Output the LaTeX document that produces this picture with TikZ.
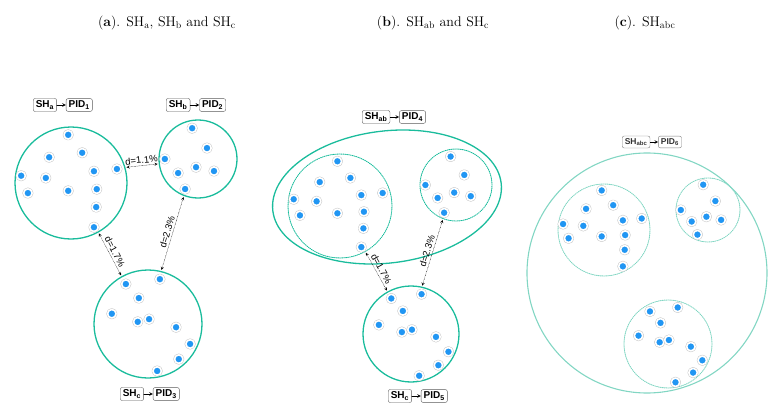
\documentclass[tikz,border=0pt]{standalone}
\usepackage{fontspec}
\setsansfont{Liberation Sans}
\usetikzlibrary{positioning,calc}
\definecolor{hullgreen}{RGB}{26,188,156}
\definecolor{hullpale}{RGB}{130,214,195}
\definecolor{seedblue}{RGB}{33,150,243}
% seed positions, relative to the hull radius
\def\patA{-0.05/-0.86,-0.39/-0.46,0.20/-0.54,-0.89/-0.13,-0.45/-0.09,-0.77/0.18,-0.05/0.14,0.41/-0.21,0.82/-0.25,0.46/0.11,0.45/0.43,0.41/0.79}
\def\patB{-0.15/-0.79,0.23/-0.28,-0.85/0,-0.51/0.36,-0.05/0.21,0.41/0.31,-0.33/0.77}
\def\patC{-0.41/-0.74,0.22/-0.83,-0.17/-0.48,-0.67/-0.19,-0.19/-0.04,0.02/-0.09,0.52/0.06,0.78/0.37,0.57/0.65,0.17/0.87}
\tikzset{
  hull/.style={circle, draw=hullgreen, line width=1.3pt, inner sep=0pt},
  subhull/.style={circle, draw=hullgreen, densely dotted, line width=0.9pt, inner sep=0pt},
  seed/.style={circle, inner sep=0pt, minimum size=8.4pt, fill=seedblue, draw=white, line width=1.6pt,
    preaction={draw=gray!45, line width=2.6pt}},
  tag/.style={draw=gray!70!black, rounded corners=2pt, inner xsep=2.6pt, inner ysep=2.2pt,
    font=\sffamily\bfseries\fontsize{10}{11}\selectfont},
  dist/.style={<->, densely dotted, thin, shorten >=1pt, shorten <=1pt},
  distlabel/.style={font=\sffamily\fontsize{9.5}{10}\selectfont, inner sep=2pt},
  title/.style={font=\fontsize{14}{16}\selectfont}
}
\begin{document}
\begin{tikzpicture}[x=1pt, y=-1pt, line join=round, line cap=round, >=stealth]
	\useasboundingbox (0,0) rectangle (780,420);
	% titles
	\node[title] (ta) at (167,23) {(\textbf{a}). SH\textsubscript{a}, SH\textsubscript{b} and SH\textsubscript{c}};
	\node[title] (tb) at (433,23) {(\textbf{b}). SH\textsubscript{ab} and SH\textsubscript{c}};
	\node[title] (tc) at (645,23) {(\textbf{c}). SH\textsubscript{abc}};
	% (a)
	\node[hull, minimum size=112pt] (A) at (71,183) {};
	\node[hull, minimum size=78pt] (B) at (198,159) {};
	\node[hull, minimum size=108pt] (C) at (148,324) {};
	% (b)
	\draw[hullgreen, line width=1.3pt, rotate around={7:(387,197)}] (387,197) ellipse [x radius=115, y radius=66];
	\node[subhull, minimum size=104pt] (b1) at (340,206) {};
	\node[subhull, minimum size=72pt] (b2) at (456,185) {};
	\node[hull, minimum size=96pt] (D) at (411,334) {};
	% (c)
	\node[hull, draw=hullpale, line width=1.1pt, minimum size=240pt] (F) at (647,273) {};
	\node[subhull, draw=hullpale, minimum size=92pt] (c1) at (604,230) {};
	\node[subhull, draw=hullpale, minimum size=64pt] (c2) at (708,210) {};
	\node[subhull, draw=hullpale, minimum size=88pt] (c3) at (668,344) {};
	% seeds
	\foreach \c/\r in {A/56,b1/52,c1/46}
		\foreach \u/\v [count=\i] in \patA \node[seed] (\c-\i) at ($(\c)+(\r*\u,\r*\v)$) {};
	\foreach \c/\r in {B/39,b2/36,c2/32}
		\foreach \u/\v [count=\i] in \patB \node[seed] (\c-\i) at ($(\c)+(\r*\u,\r*\v)$) {};
	\foreach \c/\r in {C/54,D/48,c3/44}
		\foreach \u/\v [count=\i] in \patC \node[seed] (\c-\i) at ($(\c)+(\r*\u,\r*\v)$) {};
	% distances
	\draw[dist] (A.16) -- node[distlabel, sloped, above] {d=1.1\%} (B.187);
	\draw[dist] (A.-61) -- node[distlabel, sloped, above] {d=1.7\%} (C.119);
	\draw[dist] (B.249) -- node[distlabel, sloped, above] {d=2.3\%} (C.76);
	\draw[dist] (b1.-61) -- node[distlabel, sloped, above] {d=1.7\%} (D.119);
	\draw[dist] (b2.249) -- node[distlabel, sloped, above] {d=2.3\%} (D.77);
	% tags
	\node[tag, anchor=west] (sha) at (33,105) {SH\textsubscript{a}};
	\node[tag, right=9pt of sha] (pid1) {PID\textsubscript{1}};
	\node[tag, anchor=west] (shb) at (166,105) {SH\textsubscript{b}};
	\node[tag, right=9pt of shb] (pid2) {PID\textsubscript{2}};
	\node[tag, anchor=west] (shc) at (120,394) {SH\textsubscript{c}};
	\node[tag, right=9pt of shc] (pid3) {PID\textsubscript{3}};
	\node[tag, anchor=west] (shab) at (362,117) {SH\textsubscript{ab}};
	\node[tag, right=9pt of shab] (pid4) {PID\textsubscript{4}};
	\node[tag, anchor=west] (shc5) at (388,396) {SH\textsubscript{c}};
	\node[tag, right=9pt of shc5] (pid5) {PID\textsubscript{5}};
	\node[tag, draw=gray, anchor=west, font=\sffamily\bfseries\fontsize{8.5}{9}\selectfont, text=black!80] (shabc) at (622,142) {SH\textsubscript{abc}};
	\node[tag, draw=gray, right=8pt of shabc, font=\sffamily\bfseries\fontsize{8.5}{9}\selectfont, text=black!80] (pid6) {PID\textsubscript{6}};
	\foreach \s/\p in {sha/pid1,shb/pid2,shc/pid3,shab/pid4,shc5/pid5,shabc/pid6}
		\draw[->, line width=.6pt] (\s) -- (\p);
\end{tikzpicture}
\end{document}
